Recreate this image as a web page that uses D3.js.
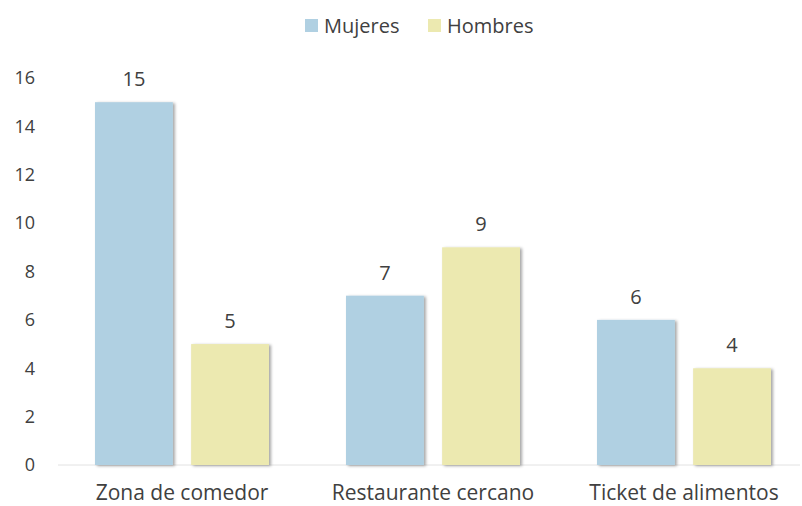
<!DOCTYPE html>
<html>
<head>
<meta charset="utf-8">
<script src="https://cdn.jsdelivr.net/npm/d3@7"></script>
<style>
  body { margin: 0; background: #fff; }
  text { font-family: "Open Sans", Lato, sans-serif; fill: #404040; }
</style>
</head>
<body>
<div id="chart"></div>
<script>
// chart data
var categories = ["Zona de comedor", "Restaurante cercano", "Ticket de alimentos"];
var seriesNames = ["Mujeres", "Hombres"];
var mujeres = [15, 7, 6];
var hombres = [5, 9, 4];
var yTicks = [0, 2, 4, 6, 8, 10, 12, 14, 16];

var colors = { "Mujeres": "#b0d0e2", "Hombres": "#ece9b0" };

var svgWidth = 802;
var svgHeight = 506;

var margin = { top: 78, right: 2, bottom: 41, left: 58 };
var width = svgWidth - margin.left - margin.right;
var height = svgHeight - margin.top - margin.bottom;

var svg = d3.select("#chart").append("svg")
  .attr("width", svgWidth)
  .attr("height", svgHeight);

// soft shadow behind the bars
var defs = svg.append("defs");
defs.append("filter")
  .attr("id", "shadow")
  .attr("x", "-10%").attr("y", "-10%")
  .attr("width", "130%").attr("height", "130%")
  .append("feDropShadow")
  .attr("dx", 2).attr("dy", 1)
  .attr("stdDeviation", 1.5)
  .attr("flood-color", "#000")
  .attr("flood-opacity", 0.35);

var chartGroup = svg.append("g")
  .attr("transform", `translate(${margin.left}, ${margin.top})`);

var table = categories.map((c, i) => ({ cat: c, Mujeres: mujeres[i], Hombres: hombres[i] }));

// groups are a bit wider than the visible plot (bars sit left in each band)
var x0 = d3.scaleBand().domain(categories).range([-2, 751]).padding(0);
var x1 = d3.scaleBand().domain(seriesNames)
  .range([39, 213])
  .paddingInner(0.19);
var y = d3.scaleLinear().domain([0, 16]).range([height, 0]);

// y axis, labels only
var yAxis = chartGroup.append("g")
  .call(d3.axisLeft(y).tickValues(yTicks).tickSize(0).tickPadding(23));
yAxis.select(".domain").remove();
yAxis.selectAll("text")
  .style("font-size", "18px")
  .style("font-family", "'Open Sans', Lato, sans-serif")
  .attr("fill", "#404040");

// baseline
chartGroup.append("line")
  .attr("x1", 0).attr("x2", width)
  .attr("y1", y(0)).attr("y2", y(0))
  .attr("stroke", "#e2e2e2")
  .attr("stroke-width", 1);

var groups = chartGroup.selectAll(".grp")
  .data(table)
  .enter()
  .append("g")
  .attr("transform", d => `translate(${x0(d.cat)}, 0)`);

var bars = groups.selectAll("g")
  .data(d => seriesNames.map(s => ({ key: s, value: d[s] })))
  .enter()
  .append("g");

bars.append("rect")
  .attr("x", d => x1(d.key))
  .attr("y", d => y(d.value))
  .attr("width", x1.bandwidth())
  .attr("height", d => y(0) - y(d.value))
  .attr("fill", d => colors[d.key])
  .attr("filter", "url(#shadow)");

bars.append("text")
  .attr("x", d => x1(d.key) + x1.bandwidth() / 2)
  .attr("y", d => y(d.value) - 16)
  .attr("text-anchor", "middle")
  .style("font-size", "20px")
  .text(d => d.value);

// category labels
chartGroup.append("g")
  .selectAll("text")
  .data(categories)
  .enter()
  .append("text")
  .attr("x", d => x0(d) + 126)
  .attr("y", height + 35)
  .attr("text-anchor", "middle")
  .style("font-size", "21px")
  .text(d => d);

// legend
var legend = svg.append("g").attr("transform", "translate(305, 0)");
var legendX = [0, 123];
seriesNames.forEach(function(s, i) {
  var item = legend.append("g").attr("transform", `translate(${legendX[i]}, 0)`);
  item.append("rect")
    .attr("x", 0).attr("y", 19)
    .attr("width", 13).attr("height", 13)
    .attr("fill", colors[s]);
  item.append("text")
    .attr("x", 19).attr("y", 33)
    .style("font-size", "20px")
    .text(s);
});
</script>
</body>
</html>
